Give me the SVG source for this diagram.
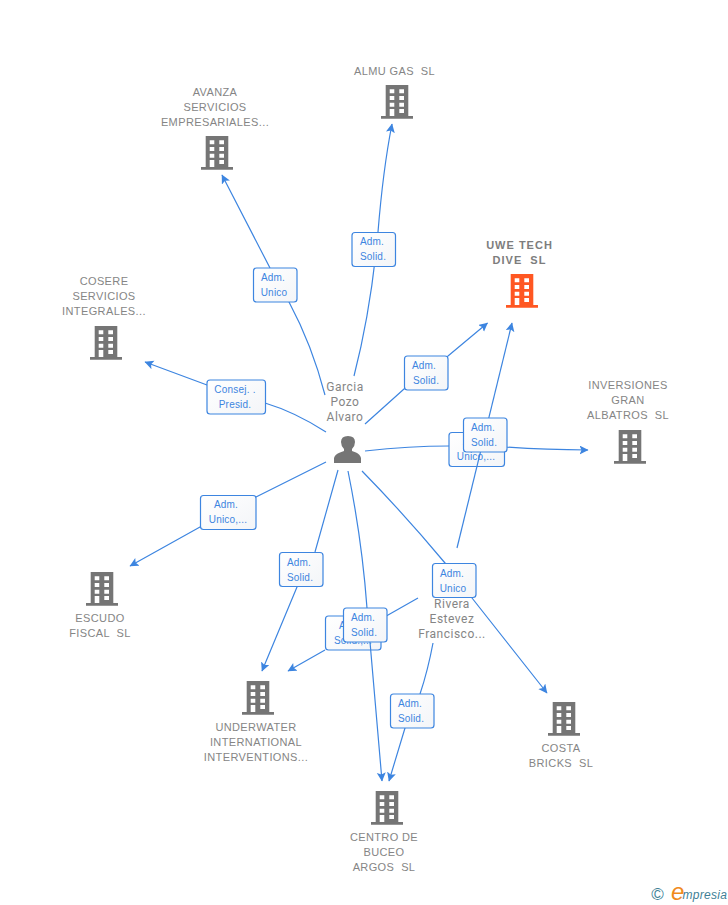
<svg xmlns="http://www.w3.org/2000/svg" width="728" height="905" viewBox="0 0 728 905">
<style>
text{font-family:"Liberation Sans",Arial,sans-serif;white-space:pre}
.n{font-size:11px;fill:#858585;text-anchor:middle;letter-spacing:.38px}
.b{font-weight:bold;fill:#7d7d7d;letter-spacing:1px}
.p{font-family:Roboto,"Liberation Sans",sans-serif;font-size:12px;fill:#858585;text-anchor:middle;letter-spacing:.5px}
.e{fill:none;stroke:#3d85e0;stroke-width:1.2;marker-end:url(#a)}
.l rect{fill:url(#g);stroke:#3d85e0;stroke-width:1.2}
.l text{font-size:10px;fill:#3d85e0;text-anchor:middle;letter-spacing:.2px}
</style>
<defs>
<marker id="a" markerUnits="userSpaceOnUse" markerWidth="12" markerHeight="12" refX="8.500" refY="4.500" orient="auto"><path d="M0 0L9 4.500L0 9L2 4.500Z" fill="#3d85e0"/></marker>
<linearGradient id="g" x1="0" y1="0" x2="1" y2="1"><stop offset="0" stop-color="#fff"/><stop offset="1" stop-color="#f3f5f8"/></linearGradient>
<symbol id="bld" viewBox="0 0 32 34" width="32" height="34">
<path fill-rule="evenodd" d="M4.700 0H27.300V31H32V33.700H0V31H4.700ZM8.700 4.300V8.300H13.300V4.300ZM18.300 4.300V8.300H23V4.300ZM8.700 11V15H13.300V11ZM18.300 11V15H23V11ZM8.700 17.700V21.700H13.300V17.700ZM18.300 17.700V21.700H23V17.700ZM8.700 24V31H13.300V24ZM18.300 24V28H23V24Z"/>
</symbol>
</defs>
<rect width="728" height="905" fill="#fff"/>
<g id="edge-labels-under" class="l">
<g><rect x="449" y="432.500" width="55.500" height="34" rx="3"/><text x="475" y="445">Adm.</text><text x="476" y="460">Unico,...</text></g>
<g><rect x="325.500" y="616" width="55.500" height="34" rx="3"/><text x="351" y="629">Adm.</text><text x="353" y="644">Solid.,...</text></g>
</g>
<g id="connectors">
<path class="e" d="M354 376Q371 310 378 232Q383 170 392 124"/>
<path class="e" d="M325 395Q312 345 289 302L270 268L222 175"/>
<path class="e" d="M326 432Q295 412 265 403L207 385L145 362"/>
<path class="e" d="M326 462L256 497L200 527L130 566"/>
<path class="e" d="M338 470L315 552L297 587L262 671"/>
<path class="e" d="M348 471Q362 540 367 608L370 642L382 781"/>
<path class="e" d="M365 424L404 389L448 356L487.500 323"/>
<path class="e" d="M365 451Q410 446 449 446M505 447Q545 450 588 450"/>
<path class="e" d="M362 471Q405 515 445 563L472 598L547 693"/>
<path class="e" d="M457 548L512 323"/>
<path class="e" d="M418 598L381 619M325 650L288 671"/>
<path class="e" d="M433 643Q428 670 420 694L405 728L389 781"/>
</g>
<g id="edge-labels" class="l">
<g><rect x="352" y="232.500" width="43.500" height="34" rx="3"/><text x="372" y="245">Adm.</text><text x="373" y="260">Solid.</text></g>
<g><rect x="253.500" y="268" width="43.500" height="34" rx="3"/><text x="273" y="281">Adm.</text><text x="274" y="296">Unico</text></g>
<g><rect x="207" y="380" width="58.500" height="34" rx="3"/><text x="235" y="393">Consej. .</text><text x="235" y="408">Presid.</text></g>
<g><rect x="200.500" y="495.500" width="55.500" height="34" rx="3"/><text x="226" y="508">Adm.</text><text x="228" y="523">Unico,...</text></g>
<g><rect x="279.500" y="552.500" width="43.500" height="34" rx="3"/><text x="299" y="566">Adm.</text><text x="300" y="581">Solid.</text></g>
<g><rect x="404.500" y="356" width="43.500" height="34" rx="3"/><text x="424" y="369">Adm.</text><text x="426" y="384">Solid.</text></g>
<g><rect x="463.500" y="418" width="43.500" height="34" rx="3"/><text x="483" y="431">Adm.</text><text x="484" y="446">Solid.</text></g>
<g><rect x="343.500" y="608" width="43.500" height="34" rx="3"/><text x="363" y="621">Adm.</text><text x="364" y="636">Solid.</text></g>
<g><rect x="432.500" y="563.500" width="43.500" height="34" rx="3"/><text x="452" y="577">Adm.</text><text x="453" y="592">Unico</text></g>
<g><rect x="390.500" y="694" width="43.500" height="34" rx="3"/><text x="410" y="707">Adm.</text><text x="411" y="722">Solid.</text></g>
</g>
<g id="almu"><use href="#bld" x="381" y="85" fill="#757575"/><text class="n" x="394.500" y="75">ALMU GAS  SL</text></g>
<g id="avanza"><use href="#bld" x="201" y="136" fill="#757575"/><text class="n" x="215" y="96">AVANZA</text><text class="n" x="215" y="111">SERVICIOS</text><text class="n" x="215" y="126">EMPRESARIALES...</text></g>
<g id="uwe"><use href="#bld" x="506" y="274" fill="#ff5722"/><text class="n b" x="519.500" y="249">UWE TECH</text><text class="n b" x="519.500" y="264">DIVE  SL</text></g>
<g id="cosere"><use href="#bld" x="90" y="326" fill="#757575"/><text class="n" x="104" y="285">COSERE</text><text class="n" x="104" y="300">SERVICIOS</text><text class="n" x="104" y="315">INTEGRALES...</text></g>
<g id="inversiones"><use href="#bld" x="614" y="430" fill="#757575"/><text class="n" x="628" y="389">INVERSIONES</text><text class="n" x="628" y="404">GRAN</text><text class="n" x="628" y="419">ALBATROS  SL</text></g>
<g id="escudo"><use href="#bld" x="86" y="572" fill="#757575"/><text class="n" x="100" y="622">ESCUDO</text><text class="n" x="100" y="637">FISCAL  SL</text></g>
<g id="underwater"><use href="#bld" x="242" y="681" fill="#757575"/><text class="n" x="256" y="731">UNDERWATER</text><text class="n" x="256" y="746">INTERNATIONAL</text><text class="n" x="256" y="761">INTERVENTIONS...</text></g>
<g id="centro"><use href="#bld" x="371" y="791" fill="#757575"/><text class="n" x="384" y="841">CENTRO DE</text><text class="n" x="384" y="856">BUCEO</text><text class="n" x="384" y="871">ARGOS  SL</text></g>
<g id="costa"><use href="#bld" x="548" y="702" fill="#757575"/><text class="n" x="561" y="752">COSTA</text><text class="n" x="561" y="767">BRICKS  SL</text></g>
<g id="garcia"><path fill="#757575" d="M334 463V458Q335 454 340 452.500L344 451V449Q341 446 341 442Q341 436 348 436Q355 436 355 442Q355 446 352 449V451L356 452.500Q360 454 361 458V463Z"/><text class="p" x="345" y="391">Garcia</text><text class="p" x="345" y="406">Pozo</text><text class="p" x="345" y="421">Alvaro</text></g>
<g id="rivera"><text class="p" x="452" y="608">Rivera</text><text class="p" x="452" y="623">Estevez</text><text class="p" x="452" y="638">Francisco...</text></g>
<g id="logo"><text x="657.500" y="899.500" font-size="17" fill="#3f7f96" text-anchor="middle">©</text><text x="671" y="899.500" font-family="Liberation Serif" font-style="italic" font-size="24" fill="#f08a1d">e</text><text x="682.500" y="899" font-style="italic" font-size="12" letter-spacing=".3" fill="#3f7f96">mpresia</text></g>
</svg>
